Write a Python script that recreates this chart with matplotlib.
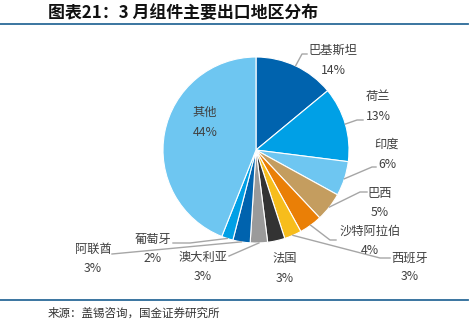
import numpy as np
import matplotlib
matplotlib.use("Agg")
import matplotlib.pyplot as plt

plt.rcParams['font.family'] = ['Noto Sans CJK SC', 'DejaVu Sans']

regions = ["巴基斯坦", "荷兰", "印度", "巴西", "沙特阿拉伯", "西班牙",
           "法国", "澳大利亚", "阿联酋", "葡萄牙", "其他"]
shares = [14, 13, 6, 5, 4, 3, 3, 3, 3, 2, 44]

palette = ["#0063AE", "#00A0E6", "#6EC6F1", "#C49D5F",
           "#EA7F06", "#F7BD1C", "#333333", "#9A9A9A"]
colors = [palette[i % len(palette)] for i in range(len(shares))]

W, H = 473, 329
cx, cy, R = 256, 150, 93

# label layout in pixel coords (top-left origin): text x, name y, pct y, leader points
layout = {
    "巴基斯坦": (333, 50, 71, [(302, 54), (307, 54)]),
    "荷兰": (378, 96, 116, [(357, 120), (363, 120)]),
    "印度": (387, 144, 164, [(372, 167), (376, 167)]),
    "巴西": (380, 193, 212, [(360, 192), (367, 192)]),
    "沙特阿拉伯": (370, 231, 250, [(330, 240), (336, 240)]),
    "西班牙": (410, 258, 277, [(380, 258), (390, 258)]),
    "法国": (285, 258, 278, []),
    "澳大利亚": (203, 257, 276, [(229, 256)]),
    "阿联酋": (93, 249, 268, [(112, 254)]),
    "葡萄牙": (153, 239, 259, [(190, 243), (173, 243)]),
    "其他": (205, 112, 133, None),
}

fig = plt.figure(figsize=(W / 100, H / 100), dpi=100)
ax = fig.add_axes([0, 0, 1, 1])

def fy(y):
    return H - y

wedges, _ = ax.pie(shares, colors=colors, startangle=90, counterclock=False,
                   center=(cx, fy(cy)), radius=R, frame=True,
                   wedgeprops=dict(edgecolor="white", linewidth=0.8))
ax.set_xlim(0, W)
ax.set_ylim(0, H)
ax.set_aspect("equal")
ax.axis("off")

txt_color = "#404040"
line_color = "#A6A6A6"
for w, name, val in zip(wedges, regions, shares):
    tx, ny, py, pts = layout[name]
    ax.text(tx, fy(ny), name, ha="center", va="center", fontsize=8.8, color=txt_color)
    ax.text(tx, fy(py), f"{val}%", ha="center", va="center", fontsize=8.8, color=txt_color)
    if pts:
        ang = np.deg2rad((w.theta1 + w.theta2) / 2)
        ax_x = cx + R * np.cos(ang)
        ax_y = fy(cy) + R * np.sin(ang)
        xs = [ax_x] + [p[0] for p in pts]
        ys = [ax_y] + [fy(p[1]) for p in pts]
        ax.plot(xs, ys, color=line_color, lw=1.0)

fig.text(48 / W, 1 - 13 / H, "图表21：3 月组件主要出口地区分布", fontsize=12.2,
         fontweight="bold", color="#111111", ha="left", va="center")
fig.text(48 / W, 1 - 313 / H, "来源：盖锡咨询，国金证券研究所", fontsize=8.3,
         color="#333333", ha="left", va="center")
ax.plot([0, 468], [fy(24), fy(24)], color="#2B6A98", lw=1.3)
ax.plot([0, 468], [fy(300), fy(300)], color="#2B6A98", lw=1.3)

fig.savefig("out.png", dpi=100)
